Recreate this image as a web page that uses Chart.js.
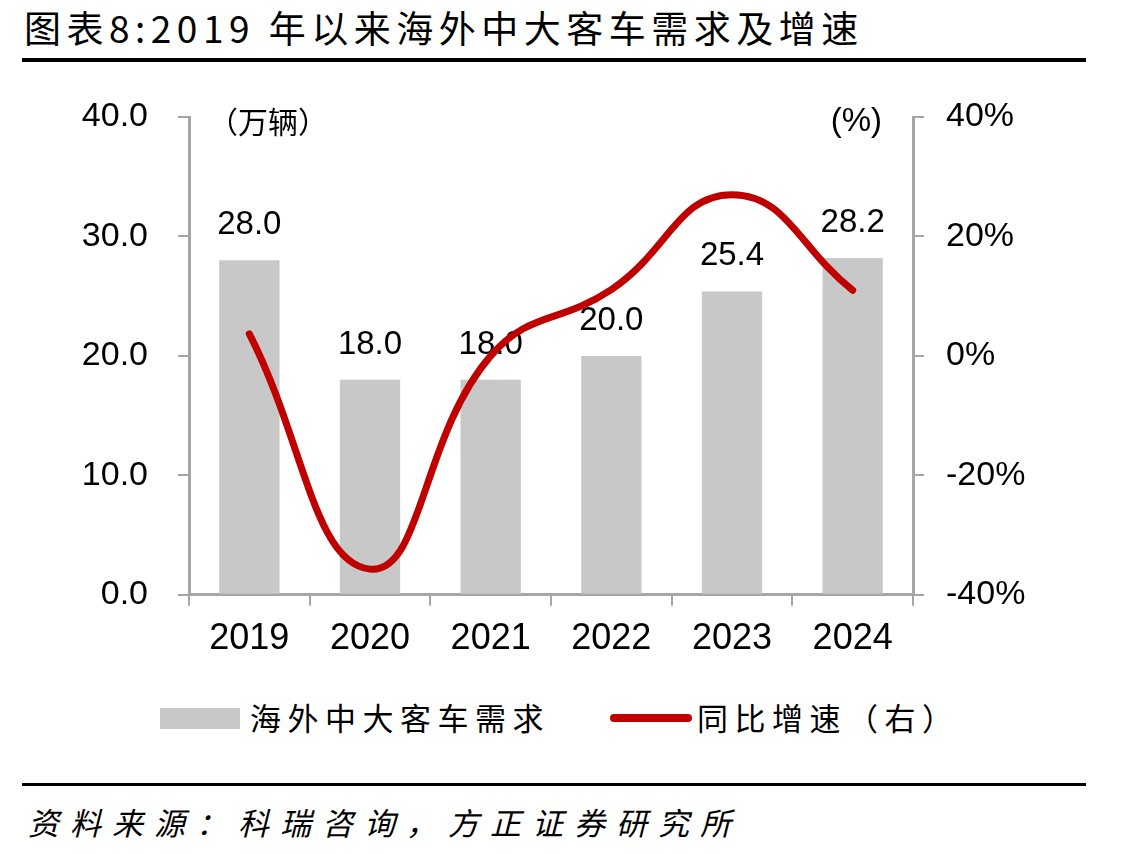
<!DOCTYPE html>
<html lang="zh">
<head>
    <meta charset="UTF-8">
    <title>图表8</title>
    <script src="https://cdn.jsdelivr.net/npm/chart.js@4.4.0/dist/chart.umd.min.js"></script>
    <style>
        html, body { margin: 0; padding: 0; background: #fff; }
        body { width: 1130px; height: 854px; position: relative; overflow: hidden;
               font-family: "Liberation Sans", Arial, sans-serif; }
        .cjk { font-family: "Noto Sans CJK SC", "Noto Sans", sans-serif; }
        #title { position: absolute; left: 24px; top: 0px; font-size: 37px; letter-spacing: 5.5px; color: #000; white-space: nowrap; }
        .rule { position: absolute; left: 22px; width: 1064px; background: #000; }
        #chartBox { position: absolute; left: 0; top: 0; width: 1130px; height: 673px; }
        #legend { position: absolute; top: 698px; left: 0; width: 1130px; height: 40px; }
        .lg { position: absolute; font-size: 31px; letter-spacing: 6.5px; top: -4px; white-space: nowrap; }
        #source { position: absolute; left: 28px; top: 799px; font-size: 31px; letter-spacing: 11px; font-style: italic; white-space: nowrap; }
    </style>
</head>
<body>
    <div id="title" class="cjk">图表8:2019 年以来海外中大客车需求及增速</div>
    <div class="rule" style="top:58px;height:4px;"></div>

    <div id="chartBox"><canvas id="mainChart"></canvas></div>

    <div id="legend">
        <div style="position:absolute;left:160px;top:10px;width:80px;height:21px;background:#c8c8c8;"></div>
        <div class="lg cjk" style="left:250px;">海外中大客车需求</div>
        <div style="position:absolute;left:610px;top:16px;width:82px;height:8px;border-radius:4px;background:#c00000;"></div>
        <div class="lg cjk" style="left:697px;">同比增速（右）</div>
    </div>

    <div class="rule" style="top:783px;height:3px;"></div>
    <div id="source" class="cjk">资料来源：科瑞咨询，方正证券研究所</div>

    <script>
        // data
        const years = ['2019', '2020', '2021', '2022', '2023', '2024'];
        const demand = [28.0, 18.0, 18.0, 20.0, 25.4, 28.2];      // 万辆
        const growth = [3.7, -35.7, 0.0, 11.1, 27.0, 11.0];       // %

        const axisGray = '#a6a6a6';
        const fam = '"Liberation Sans", Arial, sans-serif';

        // bar value labels (under the line) + unit labels
        const labelPlugin = {
            id: 'labels',
            beforeDatasetsDraw(chart) {
                const ctx = chart.ctx;
                const meta = chart.getDatasetMeta(1);
                ctx.save();
                ctx.fillStyle = '#000';
                ctx.font = '33px ' + fam;
                ctx.textAlign = 'center';
                ctx.textBaseline = 'alphabetic';
                meta.data.forEach((bar, i) => {
                    ctx.fillText(demand[i].toFixed(1), bar.x, bar.y - 26);
                });
                ctx.font = '30px "Noto Sans CJK SC", sans-serif';
                ctx.textAlign = 'left';
                ctx.textBaseline = 'middle';
                ctx.fillText('（万辆）', 208, 122);
                ctx.font = '33px ' + fam;
                ctx.textAlign = 'right';
                ctx.fillText('(%)', 882, 122);
                ctx.restore();
            }
        };

        const ctx = document.getElementById('mainChart').getContext('2d');
        new Chart(ctx, {
            data: {
                labels: years,
                datasets: [
                    {
                        type: 'line',
                        label: '同比增速（右）',
                        data: growth,
                        yAxisID: 'y1',
                        borderColor: '#c00000',
                        borderWidth: 7,
                        tension: 0.45,
                        pointRadius: 0,
                        borderCapStyle: 'round',
                        order: 0
                    },
                    {
                        type: 'bar',
                        label: '海外中大客车需求',
                        data: demand,
                        yAxisID: 'y',
                        backgroundColor: '#c8c8c8',
                        categoryPercentage: 1.0,
                        barPercentage: 0.5,
                        order: 1
                    }
                ]
            },
            options: {
                responsive: true,
                maintainAspectRatio: false,
                animation: false,
                layout: { padding: { left: 0, right: 0, top: 117, bottom: 0 } },
                plugins: {
                    legend: { display: false },
                    tooltip: { enabled: false }
                },
                scales: {
                    x: {
                        grid: { drawOnChartArea: false, color: axisGray, lineWidth: 2, tickLength: 11, offset: true },
                        border: { color: axisGray, width: 3 },
                        ticks: { color: '#000', font: { family: fam, size: 36 }, padding: 12 }
                    },
                    y: {
                        position: 'left',
                        min: 0, max: 40,
                        afterFit(scale) { scale.width = 189; },
                        ticks: { stepSize: 10, color: '#000', font: { family: fam, size: 34 }, padding: 30,
                                 callback: v => v.toFixed(1) },
                        grid: { drawOnChartArea: false, color: axisGray, lineWidth: 2, tickLength: 11 },
                        border: { color: axisGray, width: 3 }
                    },
                    y1: {
                        position: 'right',
                        min: -40, max: 40,
                        afterFit(scale) { scale.width = 217; },
                        ticks: { stepSize: 20, color: '#000', font: { family: fam, size: 34 }, padding: 22,
                                 callback: v => v + '%' },
                        grid: { drawOnChartArea: false, color: axisGray, lineWidth: 2, tickLength: 11 },
                        border: { color: axisGray, width: 3 }
                    }
                }
            },
            plugins: [labelPlugin]
        });
    </script>
</body>
</html>
